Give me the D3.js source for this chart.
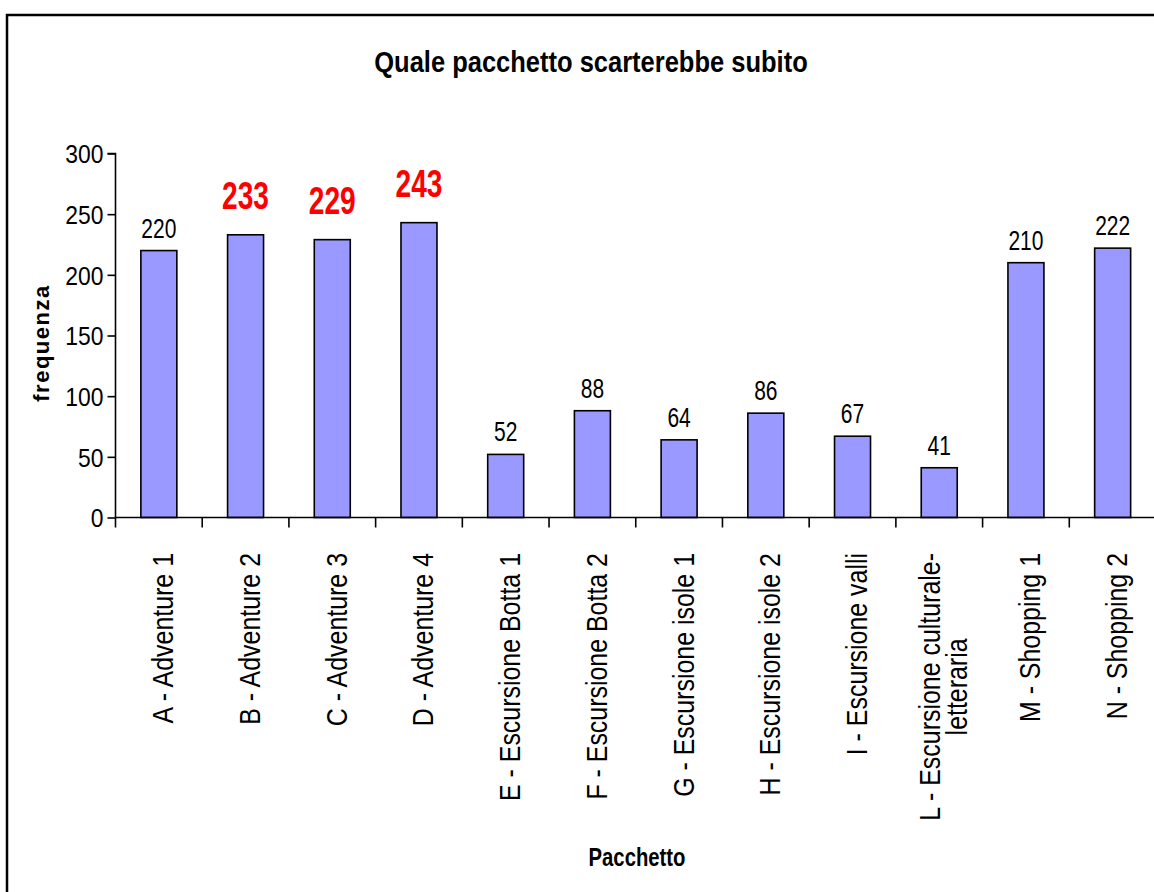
<!DOCTYPE html>
<html>
<head>
<meta charset="utf-8">
<script src="https://cdn.jsdelivr.net/npm/d3@7"></script>
<style>
  body { margin: 0; background: #fff; }
  text { font-family: "Liberation Sans", Arial, sans-serif; }
</style>
</head>
<body>
<svg id="chart" width="1154" height="892"></svg>
<script>
// data
let categories = ["A", "B", "C", "D", "E", "F", "G", "H", "I", "L", "M", "N"];
let categoryLabels = [
    "A - Adventure 1",
    "B - Adventure 2",
    "C - Adventure 3",
    "D - Adventure 4",
    "E - Escursione Botta 1",
    "F - Escursione Botta 2",
    "G - Escursione isole 1",
    "H - Escursione isole 2",
    "I - Escursione valli",
    "L - Escursione culturale-\nletteraria",
    "M - Shopping 1",
    "N - Shopping 2"
];
let frequenze = [220, 233, 229, 243, 52, 88, 64, 86, 67, 41, 210, 222];
let highlighted = ["B", "C", "D"];
let yTicks = [0, 50, 100, 150, 200, 250, 300];

let data = categories.map((c, i) => ({ cat: c, label: categoryLabels[i], value: frequenze[i] }));

let svg = d3.select('#chart');

// no narrow font installed, so squeeze the glyphs horizontally
function narrow(s) { return ' scale(' + s + ',1)'; }

// outer frame (runs off the right and bottom edge)
svg.append('rect')
    .attr('x', 7)
    .attr('y', 15)
    .attr('width', 1300)
    .attr('height', 1000)
    .style('fill', 'none')
    .style('stroke', '#000')
    .style('stroke-width', 2.5);

let margin = { left: 115.5, top: 153.5, bottom: 517.5, right: 1156 };

let xScale = d3.scaleBand()
    .domain(categories)
    .range([margin.left, margin.right]);

let yScale = d3.scaleLinear()
    .domain([0, 300])
    .range([margin.bottom, margin.top]);

let barWidth = xScale.bandwidth() * 0.415;

// title
svg.append('text')
    .attr('transform', 'translate(591,72)' + narrow(0.85))
    .style('text-anchor', 'middle')
    .style('font-size', '30px')
    .style('font-weight', 'bold')
    .text('Quale pacchetto scarterebbe subito');

// y axis
let yAxis = d3.axisLeft(yScale)
    .tickValues(yTicks)
    .tickSize(8);

let gy = svg.append('g')
    .attr('class', 'y-axis')
    .attr('transform', 'translate(' + margin.left + ',0)')
    .call(yAxis);
gy.select('.domain').attr('d', 'M-8,' + margin.top + 'H0V' + margin.bottom)
    .style('stroke-width', 1.6);
gy.selectAll('.tick line').style('stroke-width', 1.6);
gy.selectAll('.tick text')
    .attr('x', 0)
    .attr('dy', '0.36em')
    .attr('transform', 'translate(-12,0)' + narrow(0.88))
    .style('font-size', '26px')
    .style('font-family', '"Liberation Sans", Arial, sans-serif')
    .attr('fill', '#000');

// bars
svg.selectAll('.bar')
    .data(data)
    .enter().append('rect')
    .attr('class', 'bar')
    .attr('x', d => xScale(d.cat) + (xScale.bandwidth() - barWidth) / 2)
    .attr('y', d => yScale(d.value))
    .attr('width', barWidth)
    .attr('height', d => yScale(0) - yScale(d.value))
    .style('fill', '#9999FF')
    .style('stroke', '#000')
    .style('stroke-width', 1.6);

// x axis: line + ticks between categories
let gx = svg.append('g').attr('class', 'x-axis');
gx.append('line')
    .attr('x1', margin.left)
    .attr('x2', margin.right)
    .attr('y1', yScale(0))
    .attr('y2', yScale(0))
    .style('stroke', '#000')
    .style('stroke-width', 1.6);
gx.selectAll('.xtick')
    .data(categories.concat(['end']))
    .enter().append('line')
    .attr('class', 'xtick')
    .attr('x1', d => d == 'end' ? margin.right : xScale(d))
    .attr('x2', d => d == 'end' ? margin.right : xScale(d))
    .attr('y1', yScale(0))
    .attr('y2', yScale(0) + 10)
    .style('stroke', '#000')
    .style('stroke-width', 1.6);

// category labels, rotated
let labelTop = 553;
let labelSize = 29;
let lineH = 27;
data.forEach(d => {
    let lines = d.label.split('\n');
    let cx = xScale(d.cat) + xScale.bandwidth() / 2;
    let t = svg.append('text')
        .attr('transform', 'translate(' + cx + ',' + labelTop + ') rotate(-90)' + narrow(0.86))
        .style('font-size', labelSize + 'px');
    let spans = lines.map((ln, i) => t.append('tspan')
        .attr('x', 0)
        .attr('y', (0.5 * labelSize + (i - (lines.length - 1) / 2) * lineH))
        .text(ln));
    if (lines.length == 1) {
        spans[0].style('text-anchor', 'end');
    } else {
        let maxLen = d3.max(spans, s => s.node().getComputedTextLength());
        spans.forEach(s => s.attr('x', -maxLen / 2).style('text-anchor', 'middle'));
    }
});

// value labels
svg.selectAll('.value')
    .data(data)
    .enter().append('text')
    .attr('class', 'value')
    .attr('transform', d => {
        let hi = highlighted.includes(d.cat);
        let y = hi ? yScale(d.value) - 26 : yScale(d.value) - 13;
        return 'translate(' + (xScale(d.cat) + xScale.bandwidth() / 2) + ',' + y + ')' + narrow(hi ? 0.74 : 0.75);
    })
    .style('text-anchor', 'middle')
    .style('font-size', d => highlighted.includes(d.cat) ? '38px' : '28px')
    .style('font-weight', d => highlighted.includes(d.cat) ? 'bold' : 'normal')
    .style('fill', d => highlighted.includes(d.cat) ? '#FF0000' : '#000')
    .text(d => d.value);

// axis titles
svg.append('text')
    .attr('transform', 'translate(49,343) rotate(-90)')
    .style('text-anchor', 'middle')
    .style('font-size', '22px')
    .style('font-weight', 'bold')
    .style('letter-spacing', '1.5px')
    .text('frequenza');

svg.append('text')
    .attr('transform', 'translate(637,866)' + narrow(0.78))
    .style('text-anchor', 'middle')
    .style('font-size', '26px')
    .style('font-weight', 'bold')
    .text('Pacchetto');
</script>
</body>
</html>
